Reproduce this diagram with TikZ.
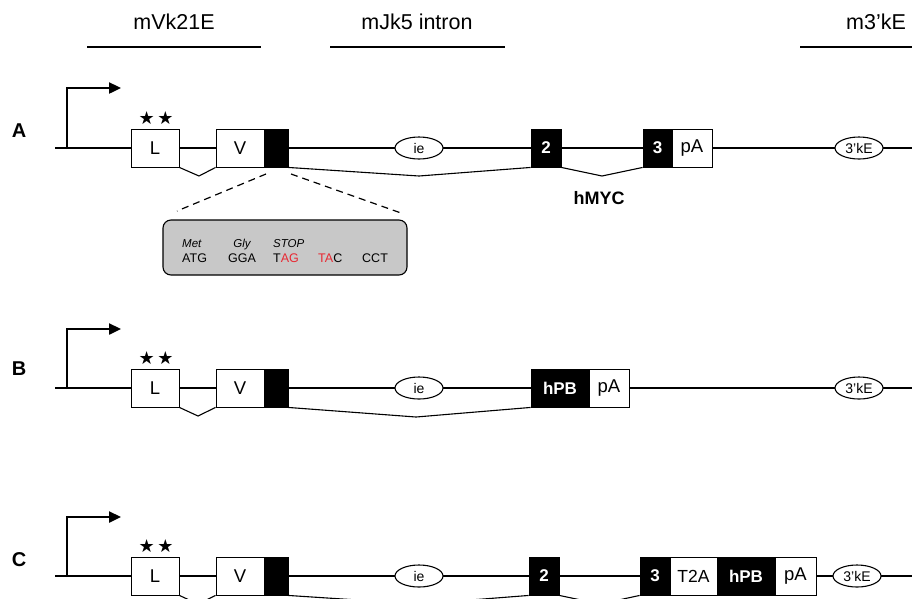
\documentclass[tikz,border=0pt]{standalone}
\usepackage{fontspec}
\setmainfont{Liberation Sans}
\newfontfamily\symfont{DejaVu Sans}
\usetikzlibrary{shapes.geometric,arrows.meta}
\definecolor{stopred}{RGB}{232,40,50}
\definecolor{seqgrey}{RGB}{200,200,200}
\begin{document}
\begin{tikzpicture}[x=1pt,y=-1pt,
 wbox/.style={draw,fill=white,line width=0.9pt,minimum height=38pt,inner sep=0pt,font=\fontsize{18.5}{18.5}\selectfont},
 bbox/.style={draw,fill=black,text=white,line width=0.9pt,minimum height=38pt,inner sep=0pt,font=\fontsize{17}{17}\selectfont\bfseries},
 oval/.style={draw,fill=white,ellipse,line width=1.1pt,minimum width=48pt,minimum height=22pt,inner sep=0pt,font=\fontsize{14}{14}\selectfont},
 backbone/.style={line width=2.4pt},
 splice/.style={line width=1.1pt},
 prom/.style={line width=2.4pt,-{Triangle[length=12pt,width=11pt]}},
 rowlab/.style={font=\fontsize{20}{20}\selectfont\bfseries},
 toplab/.style={font=\fontsize{21.5}{21.5}\selectfont},
 starlab/.style={font=\fontsize{18}{18}\symfont,inner sep=0pt},
 seqtxt/.style={font=\fontsize{12.5}{12.5}\selectfont,inner sep=0pt},
 seqit/.style={font=\fontsize{11.5}{11.5}\selectfont\itshape,inner sep=0pt},
]
\useasboundingbox (0,0) rectangle (912,598);

% ---------- top labels ----------
\node[toplab] (tV) at (174,22) {mVk21E};
\node[toplab] (tJ) at (417,22) {mJk5 intron};
\node[toplab] (tK) at (876,22) {m3'kE};
\coordinate (tVa) at (87,47); \coordinate (tVb) at (261,47);
\coordinate (tJa) at (330,47); \coordinate (tJb) at (505,47);
\coordinate (tKa) at (800,47); \coordinate (tKb) at (912,47);
\draw[line width=1.2pt] (tVa) -- (tVb);
\draw[line width=1.2pt] (tJa) -- (tJb);
\draw[line width=1.2pt] (tKa) -- (tKb);

% ---------- Row A ----------
\node[rowlab] (labA) at (19,131) {A};
\coordinate (As) at (55,148); \coordinate (Ae) at (912,148);
\draw[backbone] (As) -- (Ae);
\coordinate (Ap0) at (67,149); \coordinate (Ap1) at (67,88); \coordinate (Ap2) at (121,88);
\draw[prom] (Ap0) -- (Ap1) -- (Ap2);
\node[starlab] (Astar) at (156,118) {★\hspace{2.6pt}★};
\node[wbox,minimum width=48pt] (AL) at (155,148) {L};
\node[wbox,minimum width=48pt] (AV) at (240,148) {V};
\node[bbox,minimum width=24pt] (AJ) at (276,148) {};
\node[oval] (Aie) at (419,148) {ie};
\node[bbox,minimum width=30pt] (A2) at (546,148) {2};
\node[bbox,minimum width=29pt] (A3) at (657.5,148) {3};
\node[wbox,minimum width=40pt] (ApA) at (692,148) {pA};
\node[oval] (AkE) at (859,148) {3'kE};
\coordinate (Ad1) at (199,176); \coordinate (Ad2) at (419,176); \coordinate (Ad3) at (602,176);
\draw[splice] (AL.south east) -- (Ad1) -- (AV.south west);
\draw[splice] (AJ.south east) -- (Ad2) -- (A2.south west);
\draw[splice] (A2.south east) -- (Ad3) -- (A3.south west);
\node[font=\fontsize{18}{18}\selectfont\bfseries] (hmyc) at (599,198) {hMYC};

% zoom box
\node[draw,fill=seqgrey,rounded corners=8pt,minimum width=244pt,minimum height=55pt,line width=1.1pt,inner sep=0pt] (seq) at (285,247.5) {};
\coordinate (zl0) at (266,174); \coordinate (zl1) at (177,211);
\coordinate (zr0) at (291,174); \coordinate (zr1) at (401,213);
\draw[dashed,dash pattern=on 7pt off 5pt,line width=1.2pt] (zl0) -- (zl1);
\draw[dashed,dash pattern=on 7pt off 5pt,line width=1.2pt] (zr0) -- (zr1);
\node[seqit,anchor=base west] (met) at (182,247) {Met};
\node[seqit,anchor=base] (gly) at (242,247) {Gly};
\node[seqit,anchor=base west] (stp) at (273,247) {STOP};
\node[seqtxt,anchor=base west] (c1) at (182,262) {ATG};
\node[seqtxt,anchor=base] (c2) at (242,262) {GGA};
\node[seqtxt,anchor=base west] (c3) at (273,262) {T\textcolor{stopred}{AG}};
\node[seqtxt,anchor=base west] (c4) at (318,262) {\textcolor{stopred}{TA}C};
\node[seqtxt,anchor=base west] (c5) at (362,262) {CCT};

% ---------- Row B ----------
\node[rowlab] (labB) at (19,369) {B};
\coordinate (Bs) at (55,388); \coordinate (Be) at (912,388);
\draw[backbone] (Bs) -- (Be);
\coordinate (Bp0) at (67,389); \coordinate (Bp1) at (67,329); \coordinate (Bp2) at (121,329);
\draw[prom] (Bp0) -- (Bp1) -- (Bp2);
\node[starlab] (Bstar) at (156,358) {★\hspace{2.6pt}★};
\node[wbox,minimum width=48pt] (BL) at (155,388) {L};
\node[wbox,minimum width=48pt] (BV) at (240,388) {V};
\node[bbox,minimum width=24pt] (BJ) at (276,388) {};
\node[oval] (Bie) at (419,388) {ie};
\node[bbox,minimum width=58pt] (BhPB) at (560,388) {hPB};
\node[wbox,minimum width=40pt] (BpA) at (609,388) {pA};
\node[oval] (BkE) at (859,388) {3'kE};
\coordinate (Bd1) at (198,416); \coordinate (Bd2) at (416,417);
\draw[splice] (BL.south east) -- (Bd1) -- (BV.south west);
\draw[splice] (BJ.south east) -- (Bd2) -- (BhPB.south west);

% ---------- Row C ----------
\node[rowlab] (labC) at (19,560) {C};
\coordinate (Cs) at (55,576); \coordinate (Ce) at (912,576);
\draw[backbone] (Cs) -- (Ce);
\coordinate (Cp0) at (67,577); \coordinate (Cp1) at (67,517); \coordinate (Cp2) at (121,517);
\draw[prom] (Cp0) -- (Cp1) -- (Cp2);
\node[starlab] (Cstar) at (156,546) {★\hspace{2.6pt}★};
\node[wbox,minimum width=48pt] (CL) at (155,576) {L};
\node[wbox,minimum width=48pt] (CV) at (240,576) {V};
\node[bbox,minimum width=24pt] (CJ) at (276,576) {};
\node[oval] (Cie) at (419,576) {ie};
\node[bbox,minimum width=30pt] (C2) at (544,576) {2};
\node[bbox,minimum width=30pt] (C3) at (655,576) {3};
\node[wbox,minimum width=47pt,font=\fontsize{17.5}{17.5}\selectfont] (CT2A) at (693.5,576) {T2A};
\node[bbox,minimum width=58pt] (ChPB) at (746,576) {hPB};
\node[wbox,minimum width=41pt] (CpA) at (795.5,576) {pA};
\node[oval] (CkE) at (857,576) {3'kE};
\coordinate (Cd1) at (198,604); \coordinate (Cd2) at (419,604); \coordinate (Cd3) at (600,604);
\draw[splice] (CL.south east) -- (Cd1) -- (CV.south west);
\draw[splice] (CJ.south east) -- (Cd2) -- (C2.south west);
\draw[splice] (C2.south east) -- (Cd3) -- (C3.south west);
\end{tikzpicture}
\end{document}
